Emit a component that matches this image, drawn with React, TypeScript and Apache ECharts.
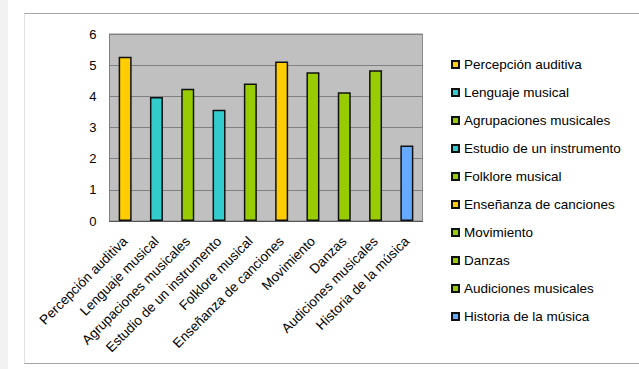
import React, { useEffect, useRef } from "react";
import * as echarts from "echarts";

const categories = [
  "Percepción auditiva",
  "Lenguaje musical",
  "Agrupaciones musicales",
  "Estudio de un instrumento",
  "Folklore musical",
  "Enseñanza de canciones",
  "Movimiento",
  "Danzas",
  "Audiciones musicales",
  "Historia de la música",
];
const values = [5.27, 3.98, 4.24, 3.57, 4.41, 5.12, 4.77, 4.13, 4.84, 2.42];
const colors = [
  "#ffcc00",
  "#33cccc",
  "#99cc00",
  "#33cccc",
  "#99cc00",
  "#ffcc00",
  "#99cc00",
  "#99cc00",
  "#99cc00",
  "#66aaff",
];
const yTicks = [0, 1, 2, 3, 4, 5, 6];

export default function App() {
  const ref = useRef<HTMLDivElement>(null);
  useEffect(() => {
    document.body.style.margin = "0";
    const chart = echarts.init(ref.current!, null, { renderer: "svg" });
    const font = "'Liberation Sans', Arial, sans-serif";
    const series = categories.map((name, i) => ({
      name,
      type: "bar",
      stack: "all",
      barWidth: 13,
      data: values.map((v, j) => (j === i ? v : "-")),
      itemStyle: { color: colors[i], borderColor: "#111", borderWidth: 1.5 },
    }));
    chart.setOption({
      animation: false,
      backgroundColor: "#ffffff",
      textStyle: { fontFamily: font },
      graphic: [
        {
          type: "rect",
          shape: { x: 0, y: 0, width: 8, height: 369 },
          style: { fill: "#f2f2f2" },
          silent: true,
        },
        {
          type: "polyline",
          shape: { points: [[640, 13.5], [24.5, 13.5], [24.5, 363.5], [640, 363.5]] },
          style: { stroke: "#a6a6a6", fill: "none", lineWidth: 1 },
          silent: true,
        },
        {
          type: "line",
          shape: { x1: 24.5, y1: 14, x2: 24.5, y2: 363 },
          style: { stroke: "#e2e2e2", lineWidth: 1 },
          silent: true,
        },
      ],
      grid: {
        left: 109.5,
        top: 34,
        width: 313,
        height: 187,
        show: true,
        backgroundColor: "#c0c0c0",
        borderColor: "#8a8a8a",
        borderWidth: 1,
      },
      legend: {
        orient: "vertical",
        left: 451,
        top: 57,
        padding: 0,
        itemWidth: 7,
        itemHeight: 7,
        itemGap: 13,
        icon: "rect",
        textStyle: { fontFamily: font, fontSize: 13.5, color: "#000", lineHeight: 15 },
        data: categories,
      },
      xAxis: {
        type: "category",
        data: categories,
        axisLine: { show: true, lineStyle: { color: "#555", width: 1 } },
        axisTick: { show: false },
        axisLabel: {
          rotate: 45,
          interval: 0,
          margin: 18,
          fontFamily: font,
          fontSize: 13.5,
          color: "#000",
        },
      },
      yAxis: {
        type: "value",
        min: 0,
        max: 6,
        interval: 1,
        axisLine: { show: true, lineStyle: { color: "#808080" } },
        axisTick: { show: false },
        splitLine: { show: true, lineStyle: { color: "#808080", width: 1 } },
        axisLabel: {
          margin: 13,
          fontFamily: font,
          fontSize: 13,
          color: "#000",
          formatter: (v: number) => (yTicks.includes(v) ? String(v) : ""),
        },
      },
      series,
    });
    return () => chart.dispose();
  }, []);
  return (
    <div
      ref={ref}
      style={{ position: "absolute", left: 0, top: 0, width: 639, height: 369 }}
    />
  );
}
